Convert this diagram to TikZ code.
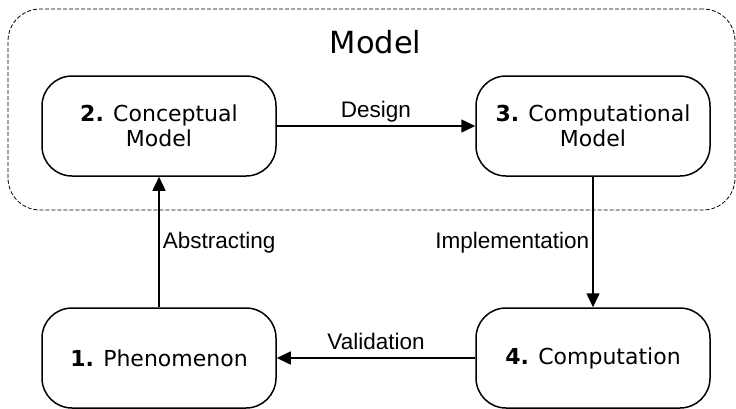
\documentclass[tikz,border=0pt]{standalone}
\usepackage{fontspec}
\setmainfont{DejaVu Sans}
\newfontfamily\edgefont{Liberation Sans}
\usetikzlibrary{arrows.meta, shapes, positioning}

\begin{document}
\begin{tikzpicture}[x=1pt, y=-1pt]

    % Page frame
    \useasboundingbox (0,0) rectangle (736,408);

    % Step boxes
    \tikzset{nB/.style={draw, line width = 1.5pt, rounded corners = 30pt, minimum width = 234pt, minimum height = 100pt, align = center, font = \fontsize{22}{25}\selectfont}}

    % Model frame
    \tikzset{mF/.style={draw = black, dash pattern = on 4pt off 2pt, rounded corners = 32pt, line width = 0.8pt, minimum width = 727pt, minimum height = 201pt}}

    % Arrows and their labels
    \tikzset{pA/.style={draw = black, line width = 1.5pt, -{Triangle[length = 14pt, width = 13pt]}}}
    \tikzset{eL/.style={font = \edgefont\fontsize{22.5}{25}\selectfont, text height = 17pt, text depth = 5pt, inner sep = 3pt}}

    % Model frame and title
    \node (model) [mF] at (371.5, 109.5) {};
    \node (title) [anchor = base, font = \fontsize{30.5}{34}\selectfont] at (375.5, 53) {Model};

    % Step nodes
    \node (c2) [nB] at (159, 126) {\textbf{2.} Conceptual\\Model};
    \node (c3) [nB] at (593, 126) {\textbf{3.} Computational\\Model};
    \node (c1) [nB] at (159, 358) {\textbf{1.} Phenomenon};
    \node (c4) [nB] at (593, 358) {\textbf{4.} Computation};

    % Cycle
    \draw[pA] (c2) -- node[eL, above] {Design} (c3);
    \draw[pA] (c3) -- node[eL, left] {Implementation} (c4);
    \draw[pA] (c4) -- node[eL, above] {Validation} (c1);
    \draw[pA] (c1) -- node[eL, right] {Abstracting} (c2);

\end{tikzpicture}
\end{document}
